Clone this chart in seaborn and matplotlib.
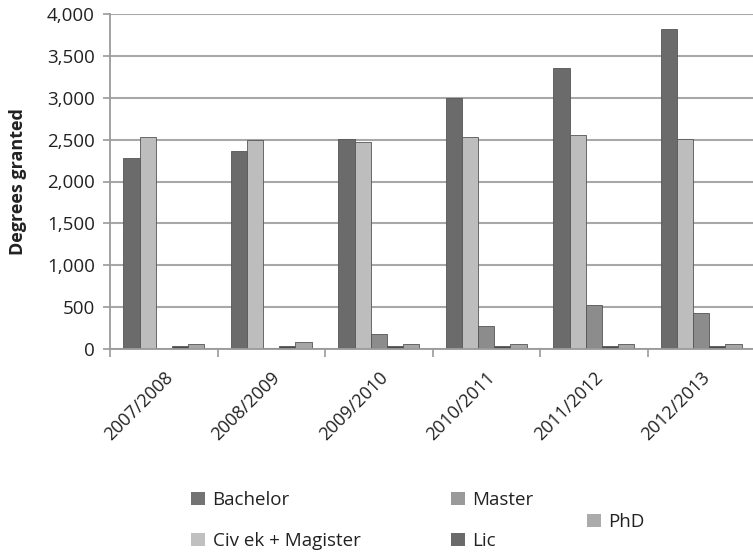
import matplotlib
matplotlib.use("Agg")
import matplotlib.pyplot as plt
from matplotlib.patches import Patch
from matplotlib.ticker import FuncFormatter, FixedLocator
import seaborn as sns
import pandas as pd

years = ["2007/2008", "2008/2009", "2009/2010", "2010/2011", "2011/2012", "2012/2013"]
series = ["Bachelor", "Civ ek + Magister", "Master", "Lic", "PhD"]
bachelor = [2280, 2360, 2510, 3000, 3350, 3820]
civ_magister = [2530, 2500, 2470, 2530, 2560, 2510]
master = [0, 10, 180, 270, 520, 430]
lic = [30, 30, 30, 30, 30, 30]
phd = [65, 85, 65, 55, 60, 65]

colors = {
    "Bachelor": "#6b6b6b",
    "Civ ek + Magister": "#bdbdbd",
    "Master": "#8c8c8c",
    "Lic": "#4d4d4d",
    "PhD": "#a6a6a6",
}
legend_colors = {
    "Bachelor": "#737373",
    "Civ ek + Magister": "#c0c0c0",
    "Master": "#9a9a9a",
    "Lic": "#6a6a6a",
    "PhD": "#ababab",
}

values = {"Bachelor": bachelor, "Civ ek + Magister": civ_magister,
          "Master": master, "Lic": lic, "PhD": phd}
df = pd.DataFrame([
    {"Year": y, "Degree": s, "Count": values[s][i]}
    for s in series for i, y in enumerate(years)
])

sns.set_theme(style="white")
plt.rcParams["font.family"] = ["Open Sans", "DejaVu Sans"]

TEXT = "#222222"
fig = plt.figure(figsize=(7.53, 5.53), dpi=100)
ax = fig.add_axes([110 / 753, 1 - 349 / 553, (755 - 110) / 753, (349 - 14) / 553])

sns.barplot(data=df, x="Year", y="Count", hue="Degree", order=years,
            hue_order=series, palette=colors, width=0.75, gap=0,
            edgecolor="#555555", linewidth=0.6, ax=ax, legend=False)

ax.set_xlim(-0.5, 5.5)
ax.set_ylim(0, 4000)
ax.set_yticks(range(0, 4001, 500))
ax.yaxis.set_major_formatter(FuncFormatter(lambda v, p: f"{int(v):,}"))
ax.grid(axis="y", color="#a8a8a8", linewidth=1.5)
ax.set_axisbelow(True)

for side in ["top", "right"]:
    ax.spines[side].set_visible(False)
for side in ["left", "bottom"]:
    ax.spines[side].set_color("#9a9a9a")
    ax.spines[side].set_linewidth(1.3)

ax.tick_params(axis="y", which="major", left=True, length=5, width=1.2,
               color="#9a9a9a", labelsize=13.5, labelcolor=TEXT, pad=6)
ax.tick_params(axis="x", which="major", bottom=False, length=0,
               labelsize=13, labelcolor=TEXT, pad=14)
ax.xaxis.set_minor_locator(FixedLocator([i - 0.5 for i in range(7)]))
ax.tick_params(axis="x", which="minor", bottom=True, length=6, width=1.2,
               color="#9a9a9a")
ax.set_xticks(range(len(years)))
ax.set_xticklabels(years, rotation=45, ha="right", rotation_mode="anchor")

ax.set_xlabel("")
ax.set_ylabel("Degrees granted", fontsize=13, fontweight="bold",
              color=TEXT, labelpad=14)

# legend entries laid out individually
legend_pos = {
    "Bachelor": (191, 500),
    "Civ ek + Magister": (191, 541),
    "Master": (451, 500),
    "Lic": (451, 541),
    "PhD": (587, 522),
}
for s in series:
    x, y = legend_pos[s]
    fig.legend(handles=[Patch(facecolor=legend_colors[s], edgecolor="none")],
               labels=[s], loc="center left",
               bbox_to_anchor=(x / 753, 1 - y / 553), frameon=False,
               borderpad=0, borderaxespad=0, handlelength=0.75,
               handleheight=0.75, handletextpad=0.4,
               prop={"size": 13.5}, labelcolor=TEXT)

fig.savefig("out.png", dpi=100)
